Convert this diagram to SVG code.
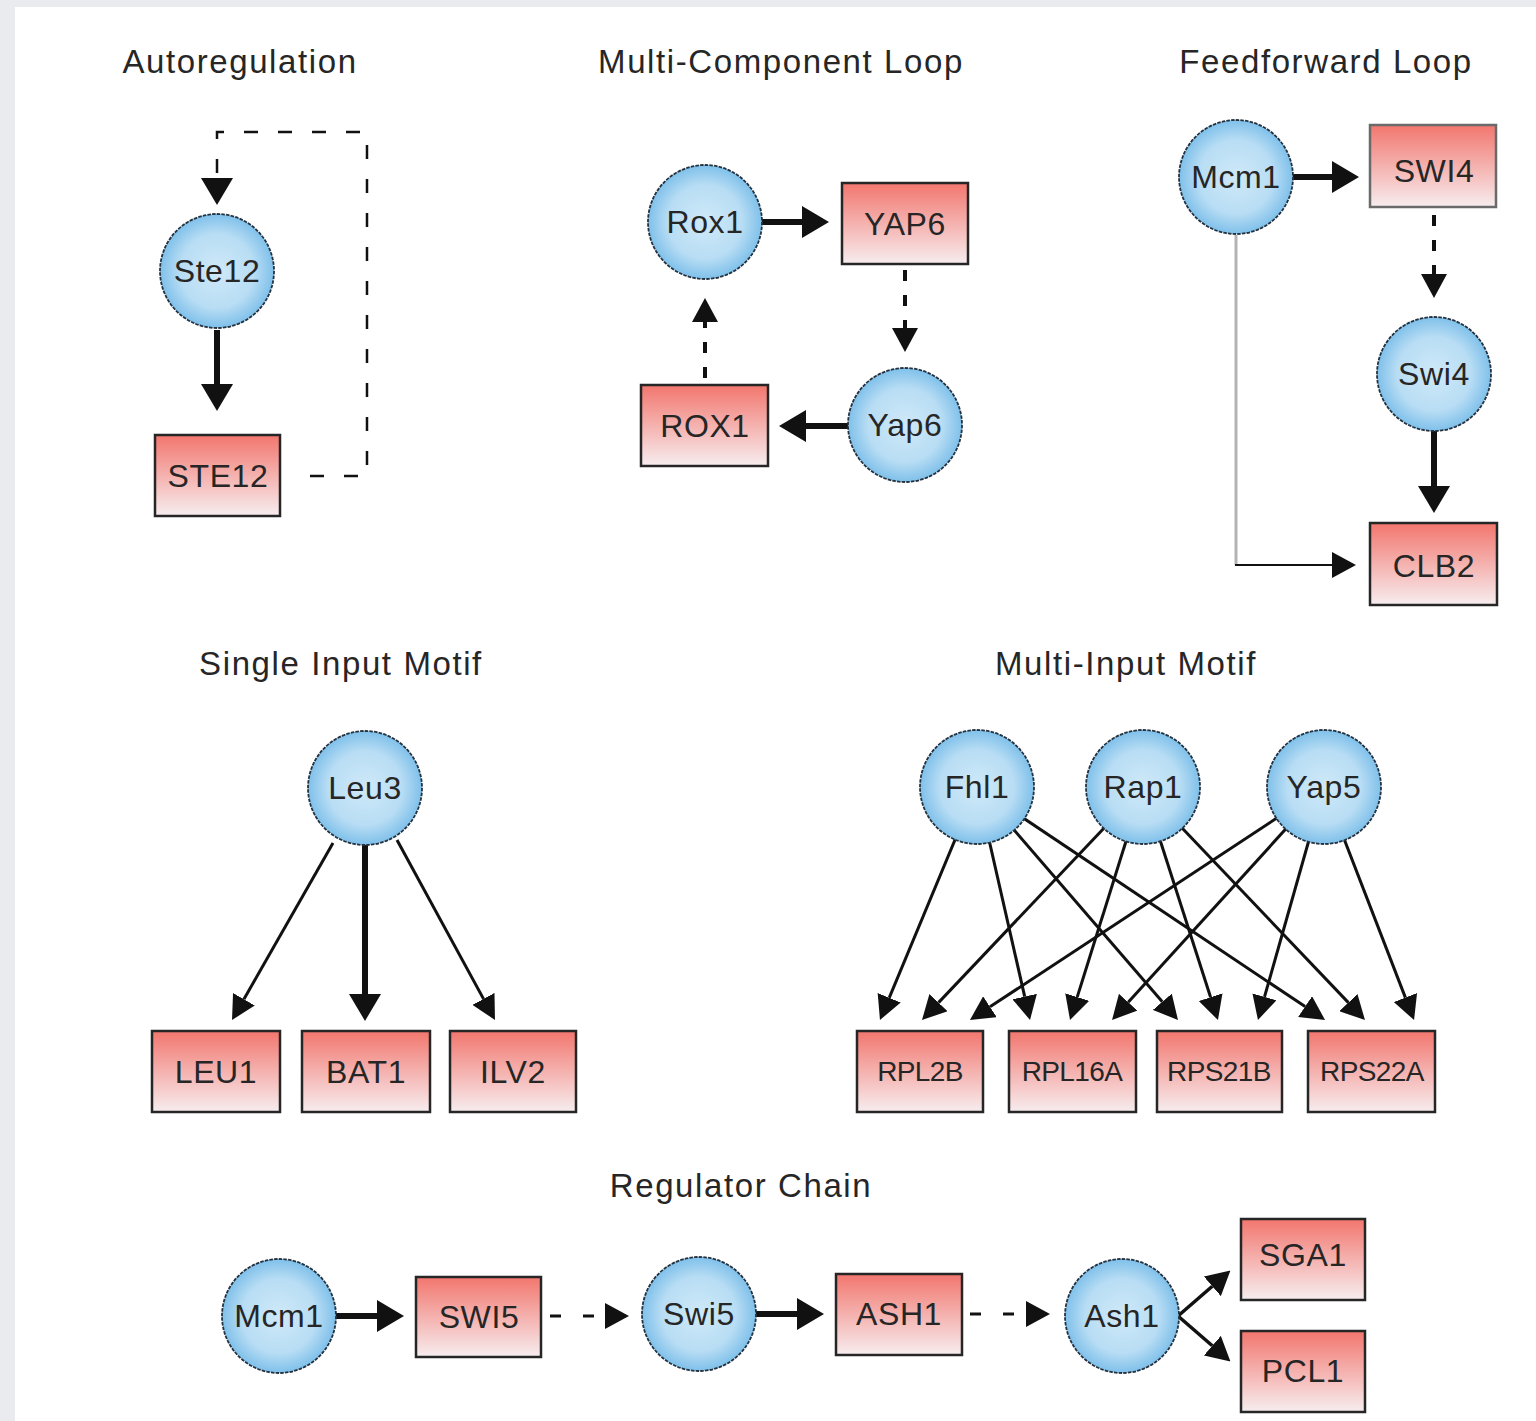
<svg xmlns="http://www.w3.org/2000/svg" width="1536" height="1421" viewBox="0 0 1536 1421">
<defs>
<radialGradient id="gc" cx="50%" cy="50%" r="50%">
<stop offset="0" stop-color="#cfe9f8"/>
<stop offset="0.65" stop-color="#b8ddf4"/>
<stop offset="1" stop-color="#7fc0ea"/>
</radialGradient>
<linearGradient id="gr" x1="0" y1="0" x2="0" y2="1">
<stop offset="0" stop-color="#f2766e"/>
<stop offset="1" stop-color="#f7edef"/>
</linearGradient>
<marker id="big" markerUnits="userSpaceOnUse" markerWidth="27" markerHeight="32" refX="0" refY="16" orient="auto" viewBox="0 0 27 32"><path d="M0,0 L27,16 L0,32 z" fill="#111"/></marker>
<marker id="med" markerUnits="userSpaceOnUse" markerWidth="24" markerHeight="26" refX="0" refY="13" orient="auto" viewBox="0 0 24 26"><path d="M0,0 L24,13 L0,26 z" fill="#111"/></marker>
<marker id="sm" markerUnits="userSpaceOnUse" markerWidth="24" markerHeight="25" refX="0" refY="12.5" orient="auto" viewBox="0 0 24 25"><path d="M0,0 L24,12.5 L0,25 z" fill="#111"/></marker>
<style>
.c{fill:url(#gc);stroke:#25323f;stroke-width:1.8;stroke-dasharray:3.5 1.2}
.r{fill:url(#gr);stroke:#262626;stroke-width:2.5}
.t{font-family:"Liberation Sans",Arial,sans-serif;font-size:32px;letter-spacing:0.6px;fill:#262626;text-anchor:middle}
.ts{font-family:"Liberation Sans",Arial,sans-serif;font-size:28px;letter-spacing:-0.6px;fill:#262626;text-anchor:middle}
.h{font-family:"Liberation Sans",Arial,sans-serif;font-size:33px;letter-spacing:1.6px;fill:#262626;text-anchor:middle}
.thick{stroke:#111;stroke-width:6;fill:none}
.thin{stroke:#111;stroke-width:3;fill:none}
.dash{stroke:#111;stroke-width:4;fill:none;stroke-dasharray:11 14}
</style>
</defs>
<rect x="0" y="0" width="1536" height="1421" fill="#e9ebee"/>
<rect x="15" y="7" width="1521" height="1414" fill="#ffffff"/>

<g id="titles">
<text class="h" x="240" y="73">Autoregulation</text>
<text class="h" x="781" y="73">Multi-Component Loop</text>
<text class="h" x="1326" y="73">Feedforward Loop</text>
<text class="h" x="341" y="675">Single Input Motif</text>
<text class="h" x="1126" y="675">Multi-Input Motif</text>
<text class="h" x="741" y="1197">Regulator Chain</text>
</g>

<g id="connectors">
<path class="thick" d="M217,330 V384" marker-end="url(#big)"/>
<path d="M310,476 H367 V132 H217 V178" fill="none" stroke="#111" stroke-width="2.5" stroke-dasharray="14 20" marker-end="url(#big)"/>
<path class="thick" d="M760,222 H802" marker-end="url(#big)"/>
<path class="dash" d="M905,270 V328" marker-end="url(#med)"/>
<path class="thick" d="M850,426 H806" marker-end="url(#big)"/>
<path class="dash" d="M705,378 V322" marker-end="url(#med)"/>
<path class="thick" d="M1291,177 H1332" marker-end="url(#big)"/>
<path class="dash" d="M1434,215 V274" marker-end="url(#med)"/>
<path class="thick" d="M1434,430 V486" marker-end="url(#big)"/>
<path d="M1236,235 V565" fill="none" stroke="#b3b3b3" stroke-width="3"/>
<path d="M1235,565 H1332" fill="none" stroke="#111" stroke-width="2" marker-end="url(#med)"/>
<path class="thin" d="M333,843 L243.9,999.2" marker-end="url(#sm)"/>
<path class="thick" d="M365,845 V994" marker-end="url(#big)"/>
<path class="thin" d="M397,840 L483.5,998.9" marker-end="url(#sm)"/>
<path class="thin" d="M977,787 L889.2,997.8" marker-end="url(#sm)"/>
<path class="thin" d="M977,787 L1024.7,996.6" marker-end="url(#sm)"/>
<path class="thin" d="M977,787 L1162.3,1001.8" marker-end="url(#sm)"/>
<path class="thin" d="M977,787 L1305.1,1006.6" marker-end="url(#sm)"/>
<path class="thin" d="M1143,787 L938.5,1002.6" marker-end="url(#sm)"/>
<path class="thin" d="M1143,787 L1077.2,997.1" marker-end="url(#sm)"/>
<path class="thin" d="M1143,787 L1210.6,997.2" marker-end="url(#sm)"/>
<path class="thin" d="M1143,787 L1348.4,1002.6" marker-end="url(#sm)"/>
<path class="thin" d="M1324,787 L990,1006.8" marker-end="url(#sm)"/>
<path class="thin" d="M1324,787 L1128.2,1002.2" marker-end="url(#sm)"/>
<path class="thin" d="M1324,787 L1264.5,996.9" marker-end="url(#sm)"/>
<path class="thin" d="M1324,787 L1405.4,997.6" marker-end="url(#sm)"/>
<path class="thick" d="M334,1316 H377" marker-end="url(#big)"/>
<path d="M550,1316 H605" fill="none" stroke="#111" stroke-width="3" stroke-dasharray="11 22" marker-end="url(#med)"/>
<path class="thick" d="M754,1314 H797" marker-end="url(#big)"/>
<path d="M970,1314 H1026" fill="none" stroke="#111" stroke-width="3" stroke-dasharray="11 22" marker-end="url(#med)"/>
<path d="M1178,1316 L1212.3,1286.3" fill="none" stroke="#111" stroke-width="3.5" marker-end="url(#med)"/>
<path d="M1178,1316 L1212.3,1345.7" fill="none" stroke="#111" stroke-width="3.5" marker-end="url(#med)"/>
</g>

<g id="n-Ste12"><circle class="c" cx="217" cy="271" r="57"/><text class="t" x="217" y="282">Ste12</text></g>
<g id="n-STE12"><rect class="r" x="155" y="435" width="125" height="81"/><text class="t" x="218" y="487">STE12</text></g>

<g id="n-Rox1"><circle class="c" cx="705" cy="222" r="57"/><text class="t" x="705" y="233">Rox1</text></g>
<g id="n-YAP6"><rect class="r" x="842" y="183" width="126" height="81"/><text class="t" x="905" y="235">YAP6</text></g>
<g id="n-Yap6"><circle class="c" cx="905" cy="425" r="57"/><text class="t" x="905" y="436">Yap6</text></g>
<g id="n-ROX1"><rect class="r" x="641" y="385" width="127" height="81"/><text class="t" x="705" y="437">ROX1</text></g>

<g id="n-Mcm1-ff"><circle class="c" cx="1236" cy="177" r="57"/><text class="t" x="1236" y="188">Mcm1</text></g>
<g id="n-SWI4"><rect class="r" x="1370" y="125" width="126" height="82" style="stroke:#6a6a6a"/><text class="t" x="1434" y="182">SWI4</text></g>
<g id="n-Swi4"><circle class="c" cx="1434" cy="374" r="57"/><text class="t" x="1434" y="385">Swi4</text></g>
<g id="n-CLB2"><rect class="r" x="1370" y="523" width="127" height="82"/><text class="t" x="1434" y="577">CLB2</text></g>

<g id="n-Leu3"><circle class="c" cx="365" cy="788" r="57"/><text class="t" x="365" y="799">Leu3</text></g>
<g id="n-LEU1"><rect class="r" x="152" y="1031" width="128" height="81"/><text class="t" x="216" y="1083">LEU1</text></g>
<g id="n-BAT1"><rect class="r" x="302" y="1031" width="128" height="81"/><text class="t" x="366" y="1083">BAT1</text></g>
<g id="n-ILV2"><rect class="r" x="450" y="1031" width="126" height="81"/><text class="t" x="513" y="1083">ILV2</text></g>

<g id="n-Fhl1"><circle class="c" cx="977" cy="787" r="57"/><text class="t" x="977" y="798">Fhl1</text></g>
<g id="n-Rap1"><circle class="c" cx="1143" cy="787" r="57"/><text class="t" x="1143" y="798">Rap1</text></g>
<g id="n-Yap5"><circle class="c" cx="1324" cy="787" r="57"/><text class="t" x="1324" y="798">Yap5</text></g>
<g id="n-RPL2B"><rect class="r" x="857" y="1031" width="126" height="81"/><text class="ts" x="920" y="1081">RPL2B</text></g>
<g id="n-RPL16A"><rect class="r" x="1009" y="1031" width="127" height="81"/><text class="ts" x="1072" y="1081">RPL16A</text></g>
<g id="n-RPS21B"><rect class="r" x="1157" y="1031" width="125" height="81"/><text class="ts" x="1219" y="1081">RPS21B</text></g>
<g id="n-RPS22A"><rect class="r" x="1308" y="1031" width="127" height="81"/><text class="ts" x="1372" y="1081">RPS22A</text></g>

<g id="n-Mcm1-ch"><circle class="c" cx="279" cy="1316" r="57"/><text class="t" x="279" y="1327">Mcm1</text></g>
<g id="n-SWI5"><rect class="r" x="416" y="1277" width="125" height="80"/><text class="t" x="479" y="1328">SWI5</text></g>
<g id="n-Swi5"><circle class="c" cx="699" cy="1314" r="57"/><text class="t" x="699" y="1325">Swi5</text></g>
<g id="n-ASH1"><rect class="r" x="836" y="1274" width="126" height="81"/><text class="t" x="899" y="1325">ASH1</text></g>
<g id="n-Ash1"><circle class="c" cx="1122" cy="1316" r="57"/><text class="t" x="1122" y="1327">Ash1</text></g>
<g id="n-SGA1"><rect class="r" x="1241" y="1219" width="124" height="81"/><text class="t" x="1303" y="1266">SGA1</text></g>
<g id="n-PCL1"><rect class="r" x="1241" y="1331" width="124" height="81"/><text class="t" x="1303" y="1382">PCL1</text></g>
</svg>
